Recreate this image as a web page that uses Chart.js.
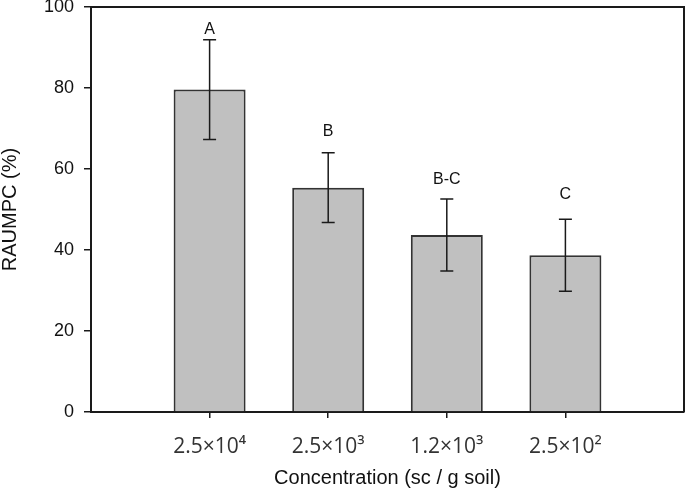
<!DOCTYPE html>
<html>
<head>
<meta charset="utf-8">
<script src="https://cdn.jsdelivr.net/npm/chart.js@4.4.0/dist/chart.umd.min.js"></script>
<style>
  html, body { margin: 0; padding: 0; background: #fff; }
  canvas { display: block; }
</style>
</head>
<body>
<canvas id="chart" width="685" height="492"></canvas>
<script>
// values
const categories = ['2.5×10⁴', '2.5×10³', '1.2×10³', '2.5×10²'];
const means = [79.6, 55.4, 43.7, 38.7];
const errors = [12.3, 8.6, 8.9, 8.9];
const letters = ['A', 'B', 'B-C', 'C'];
const letterY = [94.5, 69.2, 57.4, 53.8];
const yTicks = [0, 20, 40, 60, 80, 100];

const ink = '#1a1a1a';

// error bars, group letters and the closing frame
const extras = {
  id: 'extras',
  afterDatasetsDraw(chart) {
    const ctx = chart.ctx;
    const x = chart.scales.x, y = chart.scales.y;
    const area = chart.chartArea;
    ctx.save();
    ctx.strokeStyle = ink;
    ctx.lineWidth = 1.5;
    means.forEach((m, i) => {
      const px = x.getPixelForValue(i + 1);
      const top = y.getPixelForValue(m + errors[i]);
      const bot = y.getPixelForValue(m - errors[i]);
      ctx.beginPath();
      ctx.moveTo(px, top); ctx.lineTo(px, bot);
      ctx.moveTo(px - 6.5, top); ctx.lineTo(px + 6.5, top);
      ctx.moveTo(px - 6.5, bot); ctx.lineTo(px + 6.5, bot);
      ctx.stroke();
    });
    ctx.fillStyle = '#111';
    ctx.font = '16px "Liberation Sans", Arial, sans-serif';
    ctx.textAlign = 'center';
    ctx.textBaseline = 'middle';
    letters.forEach((t, i) => {
      ctx.fillText(t, x.getPixelForValue(i + 1), y.getPixelForValue(letterY[i]));
    });
    // top and right edges of the frame
    ctx.lineWidth = 2;
    ctx.beginPath();
    ctx.moveTo(area.left, area.top);
    ctx.lineTo(area.right, area.top);
    ctx.lineTo(area.right, area.bottom);
    ctx.stroke();
    ctx.restore();
  }
};

new Chart(document.getElementById('chart'), {
  type: 'bar',
  data: {
    datasets: [{
      data: means.map((v, i) => ({ x: i + 1, y: v })),
      backgroundColor: '#c0c0c0',
      borderColor: '#333333',
      borderWidth: 2,
      barPercentage: 0.607,
      categoryPercentage: 1
    }]
  },
  options: {
    responsive: false,
    animation: false,
    devicePixelRatio: 1,
    layout: { padding: { top: 7, right: 1, left: 0, bottom: 0 } },
    plugins: { legend: { display: false }, tooltip: { enabled: false } },
    scales: {
      x: {
        type: 'linear',
        min: 0,
        max: 5,
        offset: false,
        afterBuildTicks(scale) {
          scale.ticks = categories.map((c, i) => ({ value: i + 1 }));
        },
        afterFit(scale) { scale.height = 80; },
        ticks: {
          callback: v => categories[v - 1] || '',
          color: '#333',
          font: { family: '"Open Sans", sans-serif', size: 21 },
          padding: 16,
          maxRotation: 0,
          autoSkip: false
        },
        grid: { offset: false, drawOnChartArea: false, drawTicks: true, tickLength: 6, color: ink, lineWidth: 1.5 },
        border: { display: true, color: ink, width: 2 },
        title: {
          display: true,
          text: 'Concentration (sc / g soil)',
          color: '#111',
          font: { family: '"Liberation Sans", Arial, sans-serif', size: 20, lineHeight: 1 },
          padding: { top: 0, bottom: 4 }
        }
      },
      y: {
        min: 0,
        max: 100,
        afterBuildTicks(scale) {
          scale.ticks = yTicks.map(v => ({ value: v }));
        },
        afterFit(scale) {
          scale.width = 91;
          scale.paddingTop = 0;
          scale.paddingBottom = 0;
        },
        ticks: {
          color: '#111',
          font: { family: '"Liberation Sans", Arial, sans-serif', size: 18 },
          padding: 10
        },
        grid: { drawOnChartArea: false, drawTicks: true, tickLength: 7, color: ink, lineWidth: 1.5 },
        border: { display: true, color: ink, width: 2 },
        title: {
          display: true,
          text: 'RAUMPC (%)',
          color: '#111',
          font: { family: '"Liberation Sans", Arial, sans-serif', size: 20, lineHeight: 1 },
          padding: 0
        }
      }
    }
  },
  plugins: [extras]
});
</script>
</body>
</html>
